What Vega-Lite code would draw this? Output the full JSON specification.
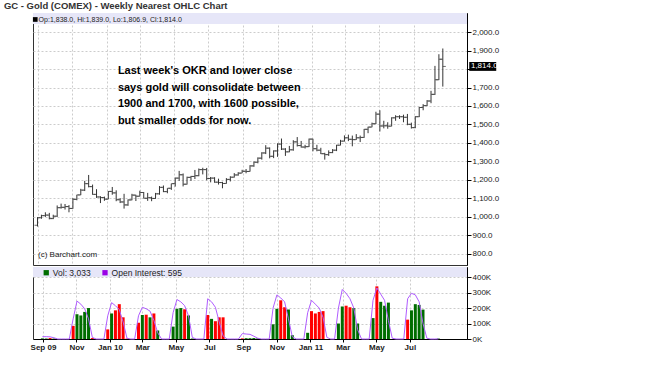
{
  "$schema": "https://vega.github.io/schema/vega-lite/v6.json",
  "background": "white",
  "padding": {"left": 3, "top": 0, "right": 0, "bottom": 0},
  "spacing": 0,
  "config": {
    "view": {"stroke": "#333"},
    "font": "Liberation Sans",
    "axis": {"labelFont": "Liberation Sans", "labelColor": "#222", "domainColor": "#000", "tickColor": "#000"}
  },
  "datasets": {
    "w": [
      {"d":"2009-08-31","o":955,"h":999,"l":948,"c":996,"v":4000,"vd":"up","oi":15000},
      {"d":"2009-09-07","o":996,"h":1012,"l":990,"c":1007,"v":3000,"vd":"up","oi":15000},
      {"d":"2009-09-14","o":1007,"h":1025,"l":1000,"c":1010,"v":6000,"vd":"down","oi":14000},
      {"d":"2009-09-21","o":1010,"h":1022,"l":987,"c":991,"v":3000,"vd":"up","oi":8000},
      {"d":"2009-09-28","o":991,"h":1012,"l":988,"c":1004,"v":0,"vd":"up","oi":0},
      {"d":"2009-10-05","o":1004,"h":1062,"l":1000,"c":1050,"v":0,"vd":"up","oi":0},
      {"d":"2009-10-12","o":1050,"h":1072,"l":1045,"c":1052,"v":0,"vd":"up","oi":0},
      {"d":"2009-10-19","o":1052,"h":1070,"l":1040,"c":1056,"v":0,"vd":"up","oi":0},
      {"d":"2009-10-26","o":1056,"h":1064,"l":1025,"c":1046,"v":85000,"vd":"down","oi":130000},
      {"d":"2009-11-02","o":1046,"h":1102,"l":1044,"c":1095,"v":160000,"vd":"up","oi":245000},
      {"d":"2009-11-09","o":1095,"h":1120,"l":1090,"c":1119,"v":152000,"vd":"up","oi":225000},
      {"d":"2009-11-16","o":1119,"h":1152,"l":1118,"c":1145,"v":175000,"vd":"up","oi":195000},
      {"d":"2009-11-23","o":1145,"h":1195,"l":1140,"c":1180,"v":200000,"vd":"up","oi":130000},
      {"d":"2009-11-30","o":1180,"h":1227,"l":1160,"c":1164,"v":6000,"vd":"down","oi":10000},
      {"d":"2009-12-07","o":1164,"h":1175,"l":1120,"c":1122,"v":0,"vd":"down","oi":0},
      {"d":"2009-12-14","o":1122,"h":1150,"l":1103,"c":1108,"v":0,"vd":"down","oi":0},
      {"d":"2009-12-21","o":1108,"h":1112,"l":1075,"c":1105,"v":0,"vd":"down","oi":0},
      {"d":"2009-12-28","o":1105,"h":1110,"l":1087,"c":1096,"v":62000,"vd":"down","oi":150000},
      {"d":"2010-01-04","o":1096,"h":1140,"l":1096,"c":1138,"v":165000,"vd":"up","oi":235000},
      {"d":"2010-01-11","o":1138,"h":1162,"l":1120,"c":1130,"v":185000,"vd":"down","oi":215000},
      {"d":"2010-01-18","o":1130,"h":1144,"l":1085,"c":1093,"v":225000,"vd":"down","oi":190000},
      {"d":"2010-01-25","o":1093,"h":1102,"l":1075,"c":1081,"v":140000,"vd":"down","oi":110000},
      {"d":"2010-02-01","o":1081,"h":1125,"l":1045,"c":1065,"v":3000,"vd":"down","oi":5000},
      {"d":"2010-02-08","o":1065,"h":1095,"l":1060,"c":1092,"v":0,"vd":"up","oi":0},
      {"d":"2010-02-15","o":1092,"h":1125,"l":1090,"c":1118,"v":0,"vd":"up","oi":0},
      {"d":"2010-02-22","o":1118,"h":1120,"l":1086,"c":1112,"v":105000,"vd":"down","oi":150000},
      {"d":"2010-03-01","o":1112,"h":1142,"l":1110,"c":1132,"v":155000,"vd":"up","oi":205000},
      {"d":"2010-03-08","o":1132,"h":1135,"l":1100,"c":1101,"v":157000,"vd":"down","oi":195000},
      {"d":"2010-03-15","o":1101,"h":1130,"l":1087,"c":1104,"v":140000,"vd":"up","oi":180000},
      {"d":"2010-03-22","o":1104,"h":1110,"l":1085,"c":1100,"v":165000,"vd":"down","oi":120000},
      {"d":"2010-03-29","o":1100,"h":1130,"l":1098,"c":1125,"v":55000,"vd":"up","oi":40000},
      {"d":"2010-04-05","o":1125,"h":1167,"l":1120,"c":1160,"v":0,"vd":"up","oi":0},
      {"d":"2010-04-12","o":1160,"h":1170,"l":1134,"c":1137,"v":0,"vd":"down","oi":0},
      {"d":"2010-04-19","o":1137,"h":1155,"l":1128,"c":1155,"v":0,"vd":"up","oi":0},
      {"d":"2010-04-26","o":1155,"h":1180,"l":1146,"c":1180,"v":80000,"vd":"up","oi":170000},
      {"d":"2010-05-03","o":1180,"h":1213,"l":1164,"c":1210,"v":195000,"vd":"up","oi":255000},
      {"d":"2010-05-10","o":1210,"h":1249,"l":1195,"c":1228,"v":200000,"vd":"up","oi":240000},
      {"d":"2010-05-17","o":1228,"h":1235,"l":1165,"c":1177,"v":192000,"vd":"down","oi":215000},
      {"d":"2010-05-24","o":1177,"h":1218,"l":1175,"c":1214,"v":152000,"vd":"up","oi":150000},
      {"d":"2010-05-31","o":1214,"h":1222,"l":1195,"c":1219,"v":3000,"vd":"up","oi":10000},
      {"d":"2010-06-07","o":1219,"h":1254,"l":1205,"c":1223,"v":0,"vd":"up","oi":0},
      {"d":"2010-06-14","o":1223,"h":1262,"l":1220,"c":1256,"v":0,"vd":"up","oi":0},
      {"d":"2010-06-21","o":1256,"h":1266,"l":1230,"c":1256,"v":0,"vd":"up","oi":0},
      {"d":"2010-06-28","o":1256,"h":1265,"l":1198,"c":1208,"v":155000,"vd":"down","oi":260000},
      {"d":"2010-07-05","o":1208,"h":1216,"l":1187,"c":1210,"v":130000,"vd":"up","oi":240000},
      {"d":"2010-07-12","o":1210,"h":1215,"l":1185,"c":1188,"v":115000,"vd":"down","oi":205000},
      {"d":"2010-07-19","o":1188,"h":1207,"l":1175,"c":1186,"v":140000,"vd":"down","oi":110000},
      {"d":"2010-07-26","o":1186,"h":1190,"l":1155,"c":1181,"v":140000,"vd":"down","oi":20000},
      {"d":"2010-08-02","o":1181,"h":1210,"l":1180,"c":1203,"v":0,"vd":"up","oi":0},
      {"d":"2010-08-09","o":1203,"h":1220,"l":1192,"c":1215,"v":0,"vd":"up","oi":0},
      {"d":"2010-08-16","o":1215,"h":1237,"l":1213,"c":1227,"v":0,"vd":"up","oi":0},
      {"d":"2010-08-23","o":1227,"h":1242,"l":1223,"c":1237,"v":0,"vd":"up","oi":0},
      {"d":"2010-08-30","o":1237,"h":1255,"l":1237,"c":1247,"v":4000,"vd":"down","oi":35000},
      {"d":"2010-09-06","o":1247,"h":1259,"l":1236,"c":1246,"v":5000,"vd":"up","oi":32000},
      {"d":"2010-09-13","o":1246,"h":1280,"l":1245,"c":1276,"v":5000,"vd":"up","oi":30000},
      {"d":"2010-09-20","o":1276,"h":1300,"l":1271,"c":1296,"v":6000,"vd":"up","oi":18000},
      {"d":"2010-09-27","o":1296,"h":1322,"l":1290,"c":1318,"v":4000,"vd":"up","oi":5000},
      {"d":"2010-10-04","o":1318,"h":1350,"l":1310,"c":1346,"v":0,"vd":"up","oi":0},
      {"d":"2010-10-11","o":1346,"h":1388,"l":1340,"c":1372,"v":0,"vd":"up","oi":0},
      {"d":"2010-10-18","o":1372,"h":1376,"l":1317,"c":1328,"v":0,"vd":"down","oi":0},
      {"d":"2010-10-25","o":1328,"h":1360,"l":1318,"c":1357,"v":95000,"vd":"up","oi":200000},
      {"d":"2010-11-01","o":1357,"h":1398,"l":1325,"c":1394,"v":195000,"vd":"up","oi":285000},
      {"d":"2010-11-08","o":1394,"h":1424,"l":1362,"c":1367,"v":250000,"vd":"down","oi":265000},
      {"d":"2010-11-15","o":1367,"h":1372,"l":1330,"c":1352,"v":205000,"vd":"down","oi":240000},
      {"d":"2010-11-22","o":1352,"h":1384,"l":1350,"c":1363,"v":190000,"vd":"up","oi":130000},
      {"d":"2010-11-29","o":1363,"h":1415,"l":1358,"c":1406,"v":25000,"vd":"up","oi":15000},
      {"d":"2010-12-06","o":1406,"h":1432,"l":1381,"c":1386,"v":0,"vd":"down","oi":0},
      {"d":"2010-12-13","o":1386,"h":1411,"l":1375,"c":1378,"v":0,"vd":"down","oi":0},
      {"d":"2010-12-20","o":1378,"h":1390,"l":1370,"c":1380,"v":0,"vd":"up","oi":0},
      {"d":"2010-12-27","o":1380,"h":1424,"l":1378,"c":1421,"v":40000,"vd":"up","oi":170000},
      {"d":"2011-01-03","o":1421,"h":1423,"l":1355,"c":1369,"v":180000,"vd":"down","oi":250000},
      {"d":"2011-01-10","o":1369,"h":1390,"l":1355,"c":1361,"v":165000,"vd":"down","oi":225000},
      {"d":"2011-01-17","o":1361,"h":1374,"l":1340,"c":1342,"v":175000,"vd":"down","oi":200000},
      {"d":"2011-01-24","o":1342,"h":1347,"l":1310,"c":1337,"v":180000,"vd":"down","oi":140000},
      {"d":"2011-01-31","o":1337,"h":1360,"l":1330,"c":1348,"v":0,"vd":"up","oi":10000},
      {"d":"2011-02-07","o":1348,"h":1367,"l":1345,"c":1361,"v":0,"vd":"up","oi":0},
      {"d":"2011-02-14","o":1361,"h":1390,"l":1356,"c":1388,"v":0,"vd":"up","oi":0},
      {"d":"2011-02-21","o":1388,"h":1417,"l":1387,"c":1410,"v":100000,"vd":"up","oi":200000},
      {"d":"2011-02-28","o":1410,"h":1441,"l":1408,"c":1428,"v":210000,"vd":"up","oi":320000},
      {"d":"2011-03-07","o":1428,"h":1445,"l":1410,"c":1420,"v":215000,"vd":"down","oi":295000},
      {"d":"2011-03-14","o":1420,"h":1440,"l":1382,"c":1418,"v":205000,"vd":"down","oi":260000},
      {"d":"2011-03-21","o":1418,"h":1448,"l":1417,"c":1428,"v":200000,"vd":"up","oi":200000},
      {"d":"2011-03-28","o":1428,"h":1440,"l":1405,"c":1430,"v":100000,"vd":"up","oi":60000},
      {"d":"2011-04-04","o":1430,"h":1476,"l":1428,"c":1474,"v":0,"vd":"up","oi":0},
      {"d":"2011-04-11","o":1474,"h":1488,"l":1453,"c":1486,"v":0,"vd":"up","oi":0},
      {"d":"2011-04-18","o":1486,"h":1510,"l":1485,"c":1504,"v":0,"vd":"up","oi":0},
      {"d":"2011-04-25","o":1504,"h":1569,"l":1502,"c":1556,"v":135000,"vd":"up","oi":250000},
      {"d":"2011-05-02","o":1556,"h":1577,"l":1462,"c":1492,"v":340000,"vd":"down","oi":330000},
      {"d":"2011-05-09","o":1492,"h":1520,"l":1479,"c":1493,"v":240000,"vd":"up","oi":290000},
      {"d":"2011-05-16","o":1493,"h":1512,"l":1477,"c":1491,"v":215000,"vd":"up","oi":250000},
      {"d":"2011-05-23","o":1491,"h":1539,"l":1490,"c":1536,"v":235000,"vd":"up","oi":120000},
      {"d":"2011-05-30","o":1536,"h":1550,"l":1520,"c":1542,"v":0,"vd":"up","oi":5000},
      {"d":"2011-06-06","o":1542,"h":1550,"l":1530,"c":1542,"v":0,"vd":"up","oi":0},
      {"d":"2011-06-13","o":1542,"h":1553,"l":1512,"c":1539,"v":0,"vd":"down","oi":0},
      {"d":"2011-06-20","o":1539,"h":1557,"l":1496,"c":1501,"v":0,"vd":"down","oi":0},
      {"d":"2011-06-27","o":1501,"h":1510,"l":1478,"c":1483,"v":125000,"vd":"down","oi":260000},
      {"d":"2011-07-04","o":1483,"h":1545,"l":1480,"c":1542,"v":185000,"vd":"up","oi":295000},
      {"d":"2011-07-11","o":1542,"h":1595,"l":1540,"c":1592,"v":225000,"vd":"up","oi":285000},
      {"d":"2011-07-18","o":1592,"h":1610,"l":1577,"c":1602,"v":220000,"vd":"up","oi":240000},
      {"d":"2011-07-25","o":1602,"h":1632,"l":1600,"c":1627,"v":190000,"vd":"up","oi":100000},
      {"d":"2011-08-01","o":1627,"h":1682,"l":1615,"c":1663,"v":0,"vd":"up","oi":5000},
      {"d":"2011-08-08","o":1663,"h":1817,"l":1660,"c":1742,"v":0,"vd":"up","oi":0},
      {"d":"2011-08-15","o":1742,"h":1880,"l":1740,"c":1853,"v":0,"vd":"up","oi":0},
      {"d":"2011-08-22","o":1853,"h":1911,"l":1705,"c":1814,"v":3033,"vd":"up","oi":595}
    ]
  },
  "vconcat": [
    {
      "width": 434,
      "height": 252,
      "title": {"text": "GC - Gold (COMEX) - Weekly Nearest OHLC Chart", "anchor": "start", "fontSize": 9.5, "fontWeight": "bold", "color": "#333", "dx": -29, "offset": 3, "font": "Liberation Sans"},
      "layer": [
        {
          "data": {"name": "w"},
          "mark": {"type": "rule", "color": "#333", "strokeWidth": 1},
          "encoding": {
            "x": {"field": "d", "type": "temporal",
              "scale": {"type": "utc", "domain": [{"year": 2009, "month": 8, "date": 23, "utc": true}, {"year": 2011, "month": 10, "date": 4, "utc": true}]},
              "axis": {"orient": "bottom", "title": null, "labels": false, "ticks": false, "domain": false, "grid": true, "gridDash": [2, 2], "gridColor": "#cccccc", "labelOverlap": false, "tickCount": 50,
                "values": [{"year":2009,"month":9,"date":1,"utc":true},{"year":2009,"month":11,"date":1,"utc":true},{"year":2010,"month":1,"date":1,"utc":true},{"year":2010,"month":3,"date":1,"utc":true},{"year":2010,"month":5,"date":1,"utc":true},{"year":2010,"month":7,"date":1,"utc":true},{"year":2010,"month":9,"date":1,"utc":true},{"year":2010,"month":11,"date":1,"utc":true},{"year":2011,"month":1,"date":1,"utc":true},{"year":2011,"month":3,"date":1,"utc":true},{"year":2011,"month":5,"date":1,"utc":true},{"year":2011,"month":7,"date":1,"utc":true}]}},
            "y": {"field": "l", "type": "quantitative", "scale": {"domain": [740, 2103], "nice": false, "zero": false},
              "axis": {"orient": "right", "title": null, "values": [800, 900, 1000, 1100, 1200, 1300, 1400, 1500, 1600, 1700, 1800, 1900, 2000], "labelOverlap": false, "tickCount": 50,
                "labelExpr": "datum.value == 1800 ? '' : format(datum.value, ',.1f')", "grid": true, "gridDash": [2, 2], "gridColor": "#cccccc", "tickSize": 4, "labelFontSize": 8, "labelPadding": 1}},
            "y2": {"field": "h"}
          }
        },
        {
          "data": {"values": [{}]},
          "mark": {"type": "rect", "color": "#e6e6f8"},
          "encoding": {
            "y": {"datum": 2103, "type": "quantitative"},
            "y2": {"datum": 2043}
          }
        },
        {
          "data": {"name": "w"},
          "mark": {"type": "tick", "orient": "horizontal", "color": "#333", "size": 3, "thickness": 1, "xOffset": -1.5},
          "encoding": {
            "x": {"field": "d", "type": "temporal"},
            "y": {"field": "o", "type": "quantitative"}
          }
        },
        {
          "data": {"name": "w"},
          "mark": {"type": "tick", "orient": "horizontal", "color": "#333", "size": 3, "thickness": 1, "xOffset": 1.5},
          "encoding": {
            "x": {"field": "d", "type": "temporal"},
            "y": {"field": "c", "type": "quantitative"}
          }
        },
        {
          "data": {"values": [{}]},
          "mark": {"type": "point", "shape": "square", "filled": true, "size": 22, "color": "#000", "opacity": 1},
          "encoding": {
            "x": {"datum": {"year": 2009, "month": 8, "date": 27, "utc": true}, "type": "temporal"},
            "y": {"datum": 2068, "type": "quantitative"}
          }
        },
        {
          "data": {"values": [{}]},
          "mark": {"type": "text", "align": "left", "baseline": "middle", "fontSize": 7, "color": "#222", "font": "Liberation Sans"},
          "encoding": {
            "x": {"datum": {"year": 2009, "month": 9, "date": 2, "utc": true}, "type": "temporal"},
            "y": {"datum": 2067, "type": "quantitative"},
            "text": {"value": "Op:1,838.0, Hi:1,839.0, Lo:1,806.9, Cl:1,814.0"}
          }
        },
        {
          "data": {"values": [{}]},
          "mark": {"type": "text", "align": "left", "baseline": "top", "fontSize": 11, "fontWeight": "bold", "color": "#000", "lineHeight": 16.7, "font": "Liberation Sans"},
          "encoding": {
            "x": {"datum": {"year": 2010, "month": 1, "date": 21, "utc": true}, "type": "temporal"},
            "y": {"datum": 1822, "type": "quantitative"},
            "text": {"value": ["Last week's OKR and lower close", "says gold will consolidate between", "1900 and 1700, with 1600 possible,", "but smaller odds for now."]}
          }
        },
        {
          "data": {"values": [{}]},
          "mark": {"type": "text", "align": "left", "baseline": "middle", "fontSize": 8, "color": "#222", "font": "Liberation Sans"},
          "encoding": {
            "x": {"datum": {"year": 2009, "month": 9, "date": 1, "utc": true}, "type": "temporal"},
            "y": {"datum": 795, "type": "quantitative"},
            "text": {"value": "(c) Barchart.com"}
          }
        },
        {
          "data": {"values": [{}]},
          "mark": {"type": "rect", "color": "#000"},
          "encoding": {
            "x": {"datum": {"year": 2011, "month": 10, "date": 8, "utc": true}, "type": "temporal"},
            "x2": {"datum": {"year": 2011, "month": 11, "date": 25, "utc": true}},
            "y": {"datum": 1790, "type": "quantitative"},
            "y2": {"datum": 1838}
          }
        },
        {
          "data": {"values": [{}]},
          "mark": {"type": "text", "align": "left", "baseline": "middle", "fontSize": 8, "color": "#fff", "font": "Liberation Sans"},
          "encoding": {
            "x": {"datum": {"year": 2011, "month": 10, "date": 11, "utc": true}, "type": "temporal"},
            "y": {"datum": 1814, "type": "quantitative"},
            "text": {"value": "1,814.0"}
          }
        }
      ]
    },
    {
      "width": 434,
      "height": 72,
      "layer": [
        {
          "data": {"name": "w"},
          "mark": {"type": "bar", "size": 3},
          "encoding": {
            "x": {"field": "d", "type": "temporal",
              "scale": {"type": "utc", "domain": [{"year": 2009, "month": 8, "date": 23, "utc": true}, {"year": 2011, "month": 10, "date": 4, "utc": true}]},
              "axis": {"orient": "bottom", "title": null, "grid": true, "gridDash": [2, 2], "gridColor": "#cccccc", "labelOverlap": false, "labelFlush": false, "tickCount": 50,
                "values": [{"year":2009,"month":9,"date":1,"utc":true},{"year":2009,"month":11,"date":1,"utc":true},{"year":2010,"month":1,"date":1,"utc":true},{"year":2010,"month":3,"date":1,"utc":true},{"year":2010,"month":5,"date":1,"utc":true},{"year":2010,"month":7,"date":1,"utc":true},{"year":2010,"month":9,"date":1,"utc":true},{"year":2010,"month":11,"date":1,"utc":true},{"year":2011,"month":1,"date":1,"utc":true},{"year":2011,"month":3,"date":1,"utc":true},{"year":2011,"month":5,"date":1,"utc":true},{"year":2011,"month":7,"date":1,"utc":true}],
                "labelExpr": "utcFormat(datum.value, (utcmonth(datum.value) == 0 || (utcmonth(datum.value) == 8 && utcyear(datum.value) == 2009)) ? '%b %y' : '%b')",
                "labelFontWeight": "bold", "labelFontSize": 8, "tickSize": 3, "labelPadding": 1}},
            "y": {"field": "v", "type": "quantitative", "scale": {"domain": [0, 465000], "nice": false},
              "axis": {"orient": "right", "title": null, "values": [0, 100000, 200000, 300000, 400000], "labelExpr": "(datum.value / 1000) + 'K'", "labelOverlap": false, "tickCount": 50,
                "grid": true, "gridDash": [2, 2], "gridColor": "#cccccc", "tickSize": 4, "labelFontSize": 8, "labelPadding": 1}},
            "color": {"field": "vd", "type": "nominal", "scale": {"domain": ["up", "down"], "range": ["#006d00", "#ff0000"]}, "legend": null}
          }
        },
        {
          "data": {"values": [{}]},
          "mark": {"type": "rect", "color": "#e6e6f8"},
          "encoding": {
            "y": {"datum": 465000, "type": "quantitative"},
            "y2": {"datum": 400000}
          }
        },
        {
          "data": {"name": "w"},
          "mark": {"type": "line", "color": "#b05cff", "strokeWidth": 1},
          "encoding": {
            "x": {"field": "d", "type": "temporal"},
            "y": {"field": "oi", "type": "quantitative"}
          }
        },
        {
          "data": {"values": [{}]},
          "mark": {"type": "point", "shape": "square", "filled": true, "size": 28, "color": "#006d00", "opacity": 1},
          "encoding": {
            "x": {"datum": {"year": 2009, "month": 9, "date": 7, "utc": true}, "type": "temporal"},
            "y": {"datum": 428000, "type": "quantitative"}
          }
        },
        {
          "data": {"values": [{}]},
          "mark": {"type": "point", "shape": "square", "filled": true, "size": 28, "color": "#9a00e6", "opacity": 1},
          "encoding": {
            "x": {"datum": {"year": 2009, "month": 12, "date": 23, "utc": true}, "type": "temporal"},
            "y": {"datum": 428000, "type": "quantitative"}
          }
        },
        {
          "data": {"values": [{}]},
          "mark": {"type": "text", "align": "left", "baseline": "middle", "fontSize": 8.5, "color": "#222", "font": "Liberation Sans"},
          "encoding": {
            "x": {"datum": {"year": 2009, "month": 9, "date": 19, "utc": true}, "type": "temporal"},
            "y": {"datum": 428000, "type": "quantitative"},
            "text": {"value": "Vol: 3,033"}
          }
        },
        {
          "data": {"values": [{}]},
          "mark": {"type": "text", "align": "left", "baseline": "middle", "fontSize": 8.5, "color": "#222", "font": "Liberation Sans"},
          "encoding": {
            "x": {"datum": {"year": 2010, "month": 1, "date": 4, "utc": true}, "type": "temporal"},
            "y": {"datum": 428000, "type": "quantitative"},
            "text": {"value": "Open Interest: 595"}
          }
        }
      ]
    }
  ]
}
